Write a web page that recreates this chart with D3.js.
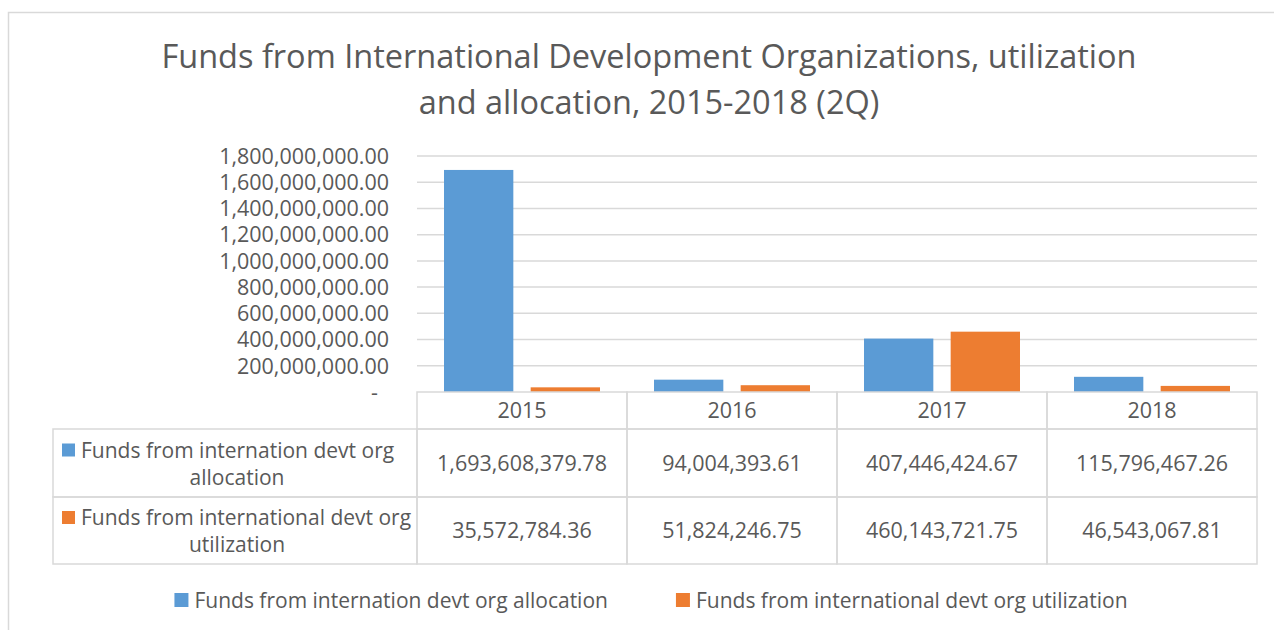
<!DOCTYPE html>
<html>
<head>
<meta charset="utf-8">
<script src="https://cdn.jsdelivr.net/npm/d3@7"></script>
<style>
  html, body { margin: 0; padding: 0; background: #fff; }
  svg { display: block; font-family: 'Open Sans', 'Noto Sans', sans-serif; }
</style>
</head>
<body>
<div id="chart"></div>
<script>
// values
const years = ['2015', '2016', '2017', '2018'];
const seriesNames = [
  'Funds from internation devt org allocation',
  'Funds from international devt org utilization'
];
const rowLabels = [
  ['Funds from internation devt org', 'allocation'],
  ['Funds from international devt org', 'utilization']
];
const allocation = [1693608379.78, 94004393.61, 407446424.67, 115796467.26];
const utilization = [35572784.36, 51824246.75, 460143721.75, 46543067.81];
const yTicks = [0, 200e6, 400e6, 600e6, 800e6, 1000e6, 1200e6, 1400e6, 1600e6, 1800e6];
const colors = ['#5B9BD5', '#ED7D31'];
const titleLines = [
  'Funds from International Development Organizations, utilization',
  'and allocation, 2015-2018 (2Q)'
];

const W = 1274, H = 630;
const TEXT = '#595959', GRID = '#D9D9D9';
const FS = 21.5;     // numbers
const FS_LABEL = 21; // series names
const plot = { left: 417, right: 1257, top: 156, bottom: 392 };
const tableLeft = 53;
const rowEdges = [392, 429, 497, 564];

const series = [allocation, utilization];

const svg = d3.select('#chart').append('svg')
  .attr('width', W)
  .attr('height', H);

// chart area border (runs off the right and bottom of the picture)
svg.append('rect')
  .attr('x', 8.5).attr('y', 12.5)
  .attr('width', W + 20).attr('height', H + 20)
  .attr('fill', 'none')
  .attr('stroke', GRID)
  .attr('stroke-width', 1.5);

// title
svg.append('g')
  .selectAll('text')
  .data(titleLines)
  .join('text')
  .attr('x', 649)
  .attr('y', (d, i) => 68 + i * 46)
  .attr('text-anchor', 'middle')
  .attr('fill', TEXT)
  .attr('font-size', 32.5)
  .text(d => d);

const y = d3.scaleLinear()
  .domain([0, 1800e6])
  .range([plot.bottom, plot.top]);

const x0 = d3.scaleBand()
  .domain(years)
  .range([plot.left, plot.right]);

const x1 = d3.scaleBand()
  .domain([0, 1])
  .range([27, x0.bandwidth() - 27])
  .paddingInner(0.2);

// gridlines
svg.append('g')
  .selectAll('line')
  .data(yTicks.filter(d => d > 0))
  .join('line')
  .attr('x1', plot.left).attr('x2', plot.right)
  .attr('y1', d => y(d)).attr('y2', d => y(d))
  .attr('stroke', GRID)
  .attr('stroke-width', 1.5);

// y axis labels
const fmt = d3.format(',.2f');
svg.append('g')
  .selectAll('text')
  .data(yTicks)
  .join('text')
  .attr('x', d => d === 0 ? 378 : 389)
  .attr('y', d => y(d))
  .attr('dy', '0.36em')
  .attr('text-anchor', 'end')
  .attr('fill', TEXT)
  .attr('font-size', FS)
  .text(d => d === 0 ? '-' : fmt(d));

// bars
svg.append('g')
  .selectAll('g')
  .data(series)
  .join('g')
  .attr('fill', (d, i) => colors[i])
  .each(function (vals, si) {
    d3.select(this).selectAll('rect')
      .data(vals)
      .join('rect')
      .attr('x', (d, i) => x0(years[i]) + x1(si))
      .attr('width', x1.bandwidth())
      .attr('y', d => y(d))
      .attr('height', d => y(0) - y(d));
  });

// data table
const table = svg.append('g')
  .attr('stroke', GRID)
  .attr('stroke-width', 1.5)
  .attr('fill', 'none');

// header row cells (years)
table.selectAll('rect.head')
  .data(years)
  .join('rect')
  .attr('class', 'head')
  .attr('x', d => x0(d))
  .attr('y', rowEdges[0])
  .attr('width', x0.bandwidth())
  .attr('height', rowEdges[1] - rowEdges[0]);

// data rows: label cell + one cell per year
series.forEach((vals, si) => {
  const top = rowEdges[si + 1], h = rowEdges[si + 2] - top;
  table.append('rect')
    .attr('x', tableLeft).attr('y', top)
    .attr('width', plot.left - tableLeft).attr('height', h);
  table.selectAll(null)
    .data(years)
    .join('rect')
    .attr('x', d => x0(d)).attr('y', top)
    .attr('width', x0.bandwidth()).attr('height', h);
});

const tText = svg.append('g')
  .attr('fill', TEXT)
  .attr('font-size', FS)
  .attr('text-anchor', 'middle');

tText.selectAll('text.year')
  .data(years)
  .join('text')
  .attr('class', 'year')
  .attr('x', d => x0(d) + x0.bandwidth() / 2)
  .attr('y', (rowEdges[0] + rowEdges[1]) / 2)
  .attr('dy', '0.36em')
  .text(d => d);

series.forEach((vals, si) => {
  const mid = (rowEdges[si + 1] + rowEdges[si + 2]) / 2;
  tText.selectAll(null)
    .data(vals)
    .join('text')
    .attr('x', (d, i) => x0(years[i]) + x0.bandwidth() / 2)
    .attr('y', mid)
    .attr('dy', '0.36em')
    .text(d => fmt(d));

  // row label with legend key: first line starts after the key, second centred
  svg.append('rect')
    .attr('x', tableLeft + 9)
    .attr('y', mid - 13 - 6.5)
    .attr('width', 13).attr('height', 13)
    .attr('fill', colors[si]);
  tText.append('text')
    .attr('x', tableLeft + 28)
    .attr('y', mid - 13)
    .attr('dy', '0.36em')
    .attr('text-anchor', 'start')
    .attr('font-size', FS_LABEL)
    .text(rowLabels[si][0]);
  tText.append('text')
    .attr('x', (tableLeft + plot.left) / 2 + 2)
    .attr('y', mid + 14)
    .attr('dy', '0.36em')
    .attr('font-size', FS_LABEL)
    .text(rowLabels[si][1]);
});

// legend at the bottom
const legend = svg.append('g');
const items = legend.selectAll('g')
  .data(seriesNames)
  .join('g');
items.append('rect')
  .attr('width', 14).attr('height', 14)
  .attr('y', 593)
  .attr('fill', (d, i) => colors[i]);
items.append('text')
  .attr('x', 20)
  .attr('y', 600)
  .attr('dy', '0.36em')
  .attr('fill', TEXT)
  .attr('font-size', FS_LABEL)
  .text(d => d);
const widths = [];
items.each(function () {
  widths.push(20 + d3.select(this).select('text').node().getComputedTextLength());
});
const legendGap = 68;
const total = d3.sum(widths) + legendGap * (widths.length - 1);
let cursor = 651 - total / 2;
items.attr('transform', (d, i) => {
  const tx = cursor;
  cursor += widths[i] + legendGap;
  return `translate(${tx},0)`;
});
</script>
</body>
</html>
